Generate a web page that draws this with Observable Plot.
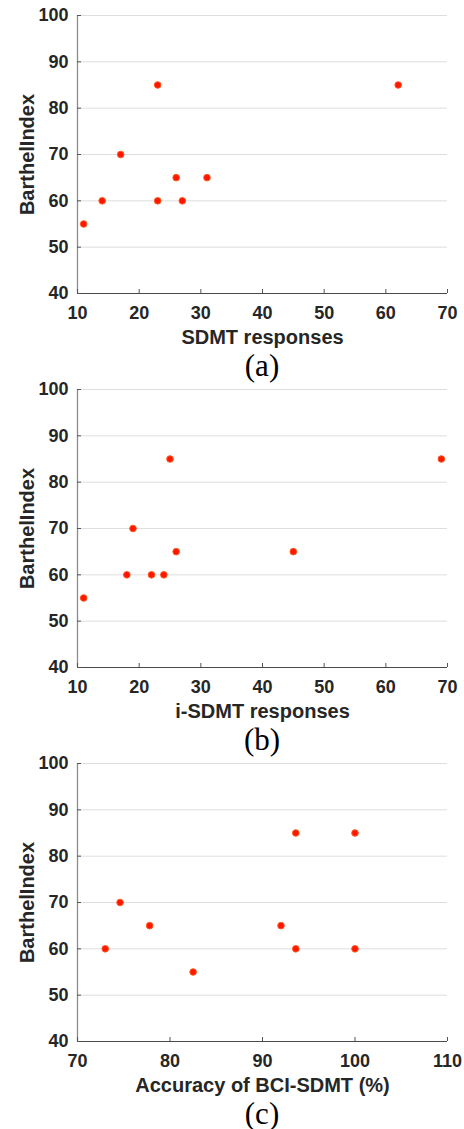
<!DOCTYPE html>
<html>
<head>
<meta charset="utf-8">
<script src="https://cdn.jsdelivr.net/npm/d3@7"></script>
<script src="https://cdn.jsdelivr.net/npm/@observablehq/plot@0.6"></script>
<style>
  html, body { margin: 0; background: #fff; }
  body { height: 1129px; overflow: hidden; }
  .panel { position: relative; width: 464px; height: 374px; }
  .panel:last-child { height: 381px; }
  .panel svg { display: block; position: relative; z-index: 1; }
  .panel svg text { font-weight: bold; }
  .cap { position: absolute; left: 0; width: 524px; text-align: center; top: 350px; z-index: 5;
         font-family: "Liberation Serif", "Times New Roman", serif; font-size: 31px; line-height: 31px; color: #000; }
</style>
</head>
<body>
<div id="root"></div>
<script>
// ---- data ----
const yTicks = [40, 50, 60, 70, 80, 90, 100];
const yLabel = "BarthelIndex";

const sdmtX = [11, 14, 17, 23, 23, 26, 27, 31, 62];
const sdmtY = [55, 60, 70, 85, 60, 65, 60, 65, 85];
const sdmtTicks = [10, 20, 30, 40, 50, 60, 70];

const isdmtX = [11, 18, 19, 22, 24, 25, 26, 45, 69];
const isdmtY = [55, 60, 70, 60, 60, 85, 65, 65, 85];
const isdmtTicks = [10, 20, 30, 40, 50, 60, 70];

const accX = [73, 74.6, 77.8, 82.5, 92, 93.6, 93.6, 100, 100];
const accY = [60, 70, 65, 55, 65, 85, 60, 85, 60];
const accTicks = [70, 80, 90, 100, 110];

const panels = [
  {xs: sdmtX, ys: sdmtY, xt: sdmtTicks, xl: "SDMT responses", cap: "(a)"},
  {xs: isdmtX, ys: isdmtY, xt: isdmtTicks, xl: "i-SDMT responses", cap: "(b)"},
  {xs: accX, ys: accY, xt: accTicks, xl: "Accuracy of BCI-SDMT (%)", cap: "(c)"}
];

const font = "'Liberation Sans', Arial, sans-serif";
const root = document.getElementById("root");

for (const p of panels) {
  const data = p.xs.map((x, i) => ({x, y: p.ys[i]}));
  const xDom = [p.xt[0], p.xt[p.xt.length - 1]];
  const yDom = [yTicks[0], yTicks[yTicks.length - 1]];
  const chart = Plot.plot({
    width: 464,
    height: 352,
    marginLeft: 77,
    marginRight: 17,
    marginTop: 15,
    marginBottom: 59,
    style: {fontFamily: font, fontWeight: "bold", fontSize: "18px", color: "#262626", background: "transparent", overflow: "visible"},
    x: {domain: xDom, ticks: p.xt},
    y: {domain: yDom, ticks: yTicks},
    marks: [
      Plot.gridY(yTicks.slice(1), {stroke: "#dedede", strokeOpacity: 1}),
      Plot.ruleY([yDom[0]], {stroke: "#4a4a4a", strokeWidth: 1}),
      Plot.ruleX([xDom[0]], {stroke: "#8c8c8c", strokeWidth: 1.3}),
      Plot.axisY(yTicks, {tickSize: -4, tickPadding: 13, stroke: "#555", fill: "#262626", fontWeight: "bold", label: null}),
      Plot.axisX(p.xt, {tickSize: -4, tickPadding: 17, stroke: "#555", fill: "#262626", fontWeight: "bold", label: null}),
      Plot.axisY({label: yLabel, labelAnchor: "center", labelArrow: "none", ticks: [], tickSize: 0, fontSize: 20, fontWeight: "bold", fill: "#262626", labelOffset: 58}),
      Plot.axisX({label: p.xl, labelAnchor: "center", labelArrow: "none", ticks: [], tickSize: 0, fontSize: 20, fontWeight: "bold", fill: "#262626", labelOffset: 50}),
      Plot.dot(data, {x: "x", y: "y", r: 3.3, fill: "#ff1500", stroke: "#ff5a1f", strokeWidth: 1})
    ]
  });
  const wrap = document.createElement("div");
  wrap.className = "panel";
  wrap.appendChild(chart);
  const cap = document.createElement("div");
  cap.className = "cap";
  cap.textContent = p.cap;
  wrap.appendChild(cap);
  root.appendChild(wrap);
}
</script>
</body>
</html>
